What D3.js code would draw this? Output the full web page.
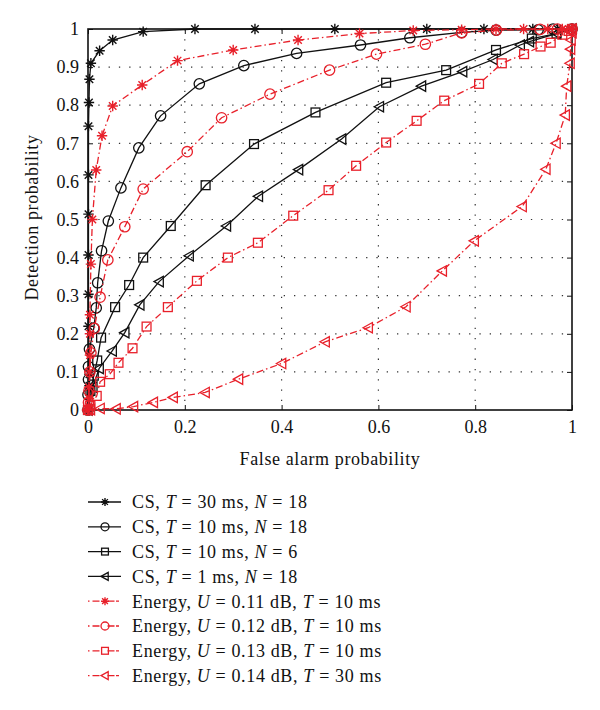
<!DOCTYPE html>
<html><head><meta charset="utf-8">
<script src="https://cdn.jsdelivr.net/npm/d3@7"></script>
<style>body{margin:0;background:#fff}svg{display:block}text{font-family:"Liberation Serif","DejaVu Serif",serif;fill:#111}</style>
</head><body>
<script>
const xTicks = [0, 0.2, 0.4, 0.6, 0.8, 1];
const xTickLabels = ["0", "0.2", "0.4", "0.6", "0.8", "1"];
const yTicks = [0, 0.1, 0.2, 0.3, 0.4, 0.5, 0.6, 0.7, 0.8, 0.9, 1];
const yTickLabels = ["0", "0.1", "0.2", "0.3", "0.4", "0.5", "0.6", "0.7", "0.8", "0.9", "1"];
const xTitle = "False alarm probability";
const yTitle = "Detection probability";

// [false alarm, detection]
const csT30N18 = [[0.003,0],[0.003,0.064],[0.003,0.094],[0.001,0.22],[0.001,0.304],[0.001,0.407],[0.001,0.514],[0.001,0.617],[0.001,0.745],[0.002,0.807],[0.003,0.868],[0.006,0.91],[0.024,0.943],[0.051,0.971],[0.114,0.993],[0.221,1],[0.345,1],[0.51,1],[0.70,1],[0.818,1],[0.919,1],[0.97,1],[1,1]];
const csT10N18 = [[0,0],[0,0.04],[0.001,0.08],[0.001,0.114],[0.003,0.16],[0.012,0.215],[0.017,0.268],[0.02,0.334],[0.028,0.418],[0.042,0.496],[0.068,0.583],[0.105,0.688],[0.15,0.772],[0.23,0.856],[0.322,0.904],[0.431,0.936],[0.563,0.958],[0.665,0.977],[0.772,0.991],[0.843,0.997],[0.93,0.998],[0.961,1],[1,1]];
const csT10N6 = [[0,0],[0.005,0.05],[0.012,0.09],[0.019,0.13],[0.027,0.19],[0.056,0.27],[0.085,0.328],[0.114,0.4],[0.171,0.483],[0.243,0.59],[0.343,0.698],[0.47,0.781],[0.616,0.859],[0.74,0.892],[0.843,0.945],[0.917,0.975],[0.968,0.988],[1,1]];
const csT1N18 = [[0,0],[0.01,0.06],[0.023,0.109],[0.05,0.155],[0.076,0.203],[0.107,0.276],[0.147,0.337],[0.209,0.405],[0.286,0.483],[0.352,0.561],[0.435,0.631],[0.524,0.711],[0.602,0.796],[0.689,0.85],[0.774,0.888],[0.837,0.92],[0.893,0.958],[0.912,0.967],[0.968,0.988],[1,1]];
const enU011 = [[0,0],[0.001,0.01],[0.002,0.03],[0.002,0.06],[0.003,0.1],[0.004,0.144],[0.004,0.2],[0.004,0.25],[0.006,0.383],[0.009,0.5],[0.017,0.63],[0.029,0.72],[0.051,0.798],[0.112,0.853],[0.185,0.917],[0.30,0.945],[0.434,0.971],[0.561,0.988],[0.672,0.996],[0.772,0.998],[0.843,1],[0.9,1],[0.95,1],[0.98,1],[1,1]];
const enU012 = [[0,0],[0.001,0.02],[0.002,0.05],[0.004,0.1],[0.006,0.15],[0.013,0.214],[0.025,0.296],[0.041,0.394],[0.076,0.481],[0.114,0.58],[0.205,0.678],[0.276,0.767],[0.376,0.829],[0.499,0.892],[0.596,0.934],[0.697,0.96],[0.772,0.99],[0.844,0.997],[0.934,0.999],[0.97,1],[1,1]];
const enU013 = [[0,0],[0.005,0.012],[0.018,0.037],[0.025,0.074],[0.045,0.094],[0.063,0.124],[0.092,0.162],[0.121,0.219],[0.165,0.27],[0.225,0.339],[0.289,0.40],[0.351,0.439],[0.424,0.51],[0.497,0.577],[0.554,0.641],[0.616,0.702],[0.679,0.759],[0.736,0.812],[0.808,0.856],[0.855,0.91],[0.901,0.934],[0.935,0.954],[0.956,0.964],[0.98,0.985],[0.993,0.995],[1,1]];
const enU014 = [[0,0],[0.005,0.001],[0.025,0.004],[0.058,0.003],[0.094,0.009],[0.135,0.02],[0.176,0.033],[0.242,0.046],[0.311,0.081],[0.40,0.122],[0.49,0.179],[0.579,0.216],[0.657,0.271],[0.732,0.365],[0.798,0.444],[0.897,0.534],[0.946,0.632],[0.967,0.70],[0.986,0.774],[0.989,0.85],[0.996,0.91],[0.997,0.947],[0.998,0.971],[1,0.99],[1,1]];

const seriesData = [csT30N18, csT10N18, csT10N6, csT1N18, enU011, enU012, enU013, enU014];
const seriesMarkers = ["star", "circle", "square", "triangle", "star", "circle", "square", "triangle"];
const seriesKinds = ["cs", "cs", "cs", "cs", "energy", "energy", "energy", "energy"];
// legend labels: segments [text, italic?]
const legendLabels = [
  [["CS, ",0],["T",1],[" = 30 ms, ",0],["N",1],[" = 18",0]],
  [["CS, ",0],["T",1],[" = 10 ms, ",0],["N",1],[" = 18",0]],
  [["CS, ",0],["T",1],[" = 10 ms, ",0],["N",1],[" = 6",0]],
  [["CS, ",0],["T",1],[" = 1 ms, ",0],["N",1],[" = 18",0]],
  [["Energy, ",0],["U",1],[" = 0.11 dB, ",0],["T",1],[" = 10 ms",0]],
  [["Energy, ",0],["U",1],[" = 0.12 dB, ",0],["T",1],[" = 10 ms",0]],
  [["Energy, ",0],["U",1],[" = 0.13 dB, ",0],["T",1],[" = 10 ms",0]],
  [["Energy, ",0],["U",1],[" = 0.14 dB, ",0],["T",1],[" = 30 ms",0]]
];

const W = 600, H = 710;
const L = 88, R = 572, T = 29, B = 410;
const RED = "#e8202a";
const styles = {
  cs: {stroke: "#111", dash: null},
  energy: {stroke: RED, dash: "7,3,1.5,3"}
};

const svg = d3.select("body").append("svg").attr("width", W).attr("height", H);
const x = d3.scaleLinear().domain([0, 1]).range([L, R]);
const y = d3.scaleLinear().domain([0, 1]).range([B, T]);

// grid
const grid = svg.append("g");
grid.selectAll("line.gx").data(xTicks.slice(1, -1)).join("line")
  .attr("x1", d => x(d)).attr("x2", d => x(d)).attr("y1", T).attr("y2", B)
  .attr("stroke", "#333").attr("stroke-width", 1.2).attr("stroke-dasharray", "1.3,9");
grid.selectAll("line.gy").data(yTicks.slice(1, -1)).join("line")
  .attr("y1", d => y(d)).attr("y2", d => y(d)).attr("x1", L).attr("x2", R)
  .attr("stroke", "#333").attr("stroke-width", 1.2).attr("stroke-dasharray", "1.3,9");

// axes
const ax = svg.append("g").attr("transform", `translate(0,${B})`)
  .call(d3.axisBottom(x).tickValues(xTicks).tickFormat((d, i) => xTickLabels[i]).tickSizeInner(-5).tickSizeOuter(0).tickPadding(10));
const ay = svg.append("g").attr("transform", `translate(${L},0)`)
  .call(d3.axisLeft(y).tickValues(yTicks).tickFormat((d, i) => yTickLabels[i]).tickSizeInner(-5).tickSizeOuter(0).tickPadding(9));
const axt = svg.append("g").attr("transform", `translate(0,${T})`)
  .call(d3.axisTop(x).tickValues(xTicks).tickFormat("").tickSizeInner(-5).tickSizeOuter(0));
const ayr = svg.append("g").attr("transform", `translate(${R},0)`)
  .call(d3.axisRight(y).tickValues(yTicks).tickFormat("").tickSizeInner(-5).tickSizeOuter(0));
[ax, ay, axt, ayr].forEach(g => {
  g.select(".domain").remove();
  g.selectAll("line").attr("stroke", "#111").attr("stroke-width", 1);
  g.selectAll("text").attr("font-size", 18).attr("fill", "#111")
    .style("font-family", '"Liberation Serif", serif');
});
ax.selectAll("text").attr("dy", "0.71em");

// frame
svg.append("rect").attr("x", L).attr("y", T).attr("width", R - L).attr("height", B - T)
  .attr("fill", "none").attr("stroke", "#111").attr("stroke-width", 1.6);

// titles
svg.append("text").attr("x", (L + R) / 2).attr("y", 465).attr("text-anchor", "middle")
  .attr("font-size", 18).attr("letter-spacing", 0.6).text(xTitle);
svg.append("text").attr("transform", `translate(38,${(T + B) / 2 - 2}) rotate(-90)`)
  .attr("text-anchor", "middle").attr("font-size", 18).attr("letter-spacing", 0.6).text(yTitle);

function drawMarker(g, type, cx, cy, color, s) {
  const r = s;
  if (type === "star") {
    const d = r * 0.72;
    g.append("path").attr("d", `M${cx - r},${cy}L${cx + r},${cy}M${cx},${cy - r}L${cx},${cy + r}M${cx - d},${cy - d}L${cx + d},${cy + d}M${cx - d},${cy + d}L${cx + d},${cy - d}`)
      .attr("stroke", color).attr("stroke-width", 1.4).attr("fill", "none");
  } else if (type === "circle") {
    g.append("circle").attr("cx", cx).attr("cy", cy).attr("r", r)
      .attr("stroke", color).attr("stroke-width", 1.3).attr("fill", "none");
  } else if (type === "square") {
    const h = r * 0.85;
    g.append("rect").attr("x", cx - h).attr("y", cy - h).attr("width", 2 * h).attr("height", 2 * h)
      .attr("stroke", color).attr("stroke-width", 1.3).attr("fill", "none");
  } else if (type === "triangle") {
    g.append("path").attr("d", `M${cx - r},${cy}L${cx + r * 0.8},${cy - r}L${cx + r * 0.8},${cy + r}Z`)
      .attr("stroke", color).attr("stroke-width", 1.3).attr("fill", "none");
  }
}

const plot = svg.append("g");
const line = d3.line().x(d => x(d[0])).y(d => y(d[1]));
seriesData.forEach((data, i) => {
  const st = styles[seriesKinds[i]];
  const g = plot.append("g");
  g.append("path").attr("d", line(data)).attr("fill", "none")
    .attr("stroke", st.stroke).attr("stroke-width", 1.3)
    .attr("stroke-dasharray", st.dash);
  data.forEach(p => drawMarker(g, seriesMarkers[i], x(p[0]), y(p[1]), st.stroke, 5.2));
});

// legend
const leg = svg.append("g");
const legY0 = 502, legDy = 24.8;
legendLabels.forEach((segs, i) => {
  const yy = legY0 + i * legDy;
  const st = styles[seriesKinds[i]];
  const g = leg.append("g");
  g.append("line").attr("x1", 88).attr("x2", 121).attr("y1", yy).attr("y2", yy)
    .attr("stroke", st.stroke).attr("stroke-width", 1.3)
    .attr("stroke-dasharray", st.dash ? "1.5,3,7,8,7" : null);
  drawMarker(g, seriesMarkers[i], 105, yy, st.stroke, 4);
  const t = g.append("text").attr("x", 132).attr("y", yy).attr("dy", "0.35em")
    .attr("font-size", 18).attr("letter-spacing", 0.65);
  segs.forEach(s => t.append("tspan").attr("font-style", s[1] ? "italic" : "normal").text(s[0]));
});
</script>
</body></html>
